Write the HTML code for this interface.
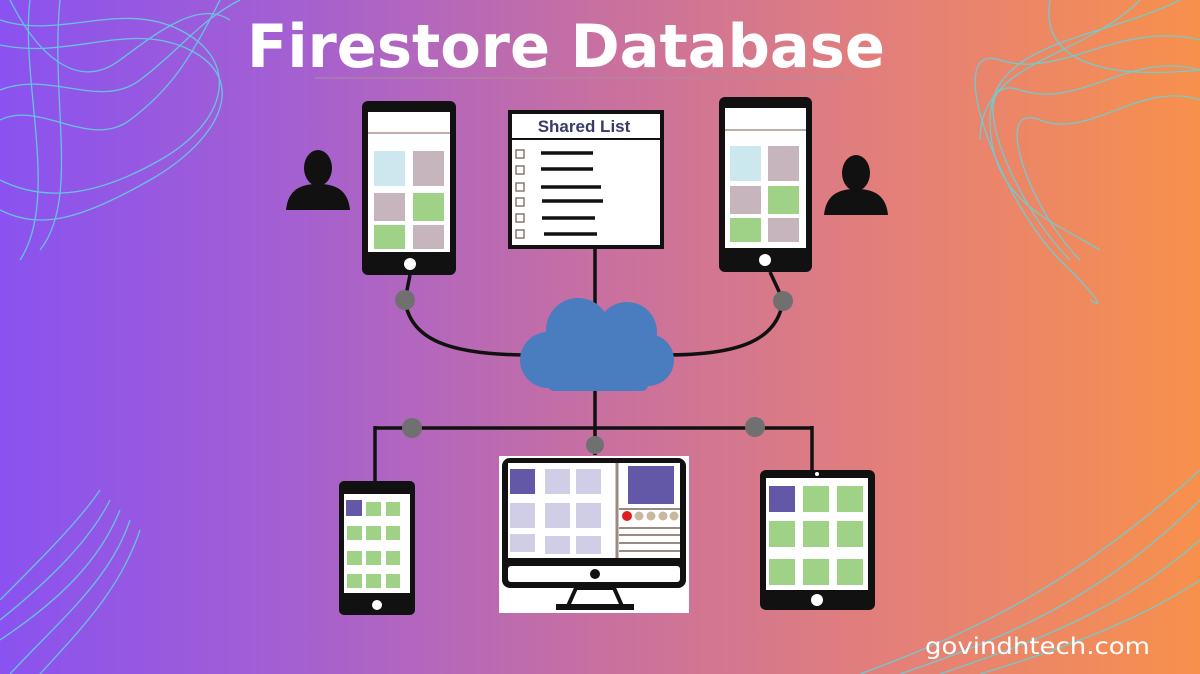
<!DOCTYPE html>
<html><head><style>
html,body{margin:0;padding:0;width:1200px;height:674px;overflow:hidden}
body{background:linear-gradient(90deg,#8a52f0 0%,#a560d0 25%,#c870a0 50%,#e48078 75%,#f8904c 100%);font-family:"Liberation Sans",sans-serif}
svg{position:absolute;left:0;top:0}
</style></head><body>
<svg width="1200" height="674" viewBox="0 0 1200 674">
<g fill="none" stroke="#5fd6e0" stroke-width="1.3" opacity="0.85">
<path d="M0 20 C60 40 120 0 180 30 S230 120 160 160 S40 200 0 180"/>
<path d="M0 45 C70 60 130 20 190 50 S220 140 150 180 S40 230 0 210"/>
<path d="M10 0 C40 60 80 90 120 60 S200 0 230 20"/>
<path d="M0 90 C50 70 100 110 140 80 S200 20 240 0"/>
<path d="M0 120 C40 100 90 150 130 120 S190 60 220 0"/>
<path d="M30 0 C20 80 60 200 20 260"/>
<path d="M60 0 C50 100 80 200 40 250"/>
<path d="M1200 40 C1120 20 1060 80 1000 60 S1000 200 1060 260 S1090 300 1090 300"/>
<path d="M1200 70 C1130 50 1080 110 1020 90 S1010 200 1070 260"/>
<path d="M1200 100 C1140 80 1090 140 1040 120 S1030 210 1080 260"/>
<path d="M1180 0 C1100 40 990 40 990 120 S1050 220 1100 250"/>
<path d="M1140 0 C1080 60 980 60 980 140"/>
<path d="M1050 0 C1040 60 1100 80 1200 70"/>
<path d="M0 600 C40 560 80 520 100 490"/>
<path d="M0 620 C50 580 90 540 110 500"/>
<path d="M0 640 C60 600 100 560 120 510"/>
<path d="M10 674 C60 620 110 580 130 520"/>
<path d="M40 674 C80 630 120 590 140 530"/>
<path d="M900 674 C1000 640 1100 600 1200 500"/>
<path d="M940 674 C1040 640 1120 610 1200 540"/>
<path d="M980 674 C1060 650 1140 620 1200 580"/>
<path d="M860 674 C980 630 1080 580 1200 470"/>
</g>
<text x="247" y="67" textLength="638" lengthAdjust="spacingAndGlyphs" fill="#fff" font-family="DejaVu Sans" font-weight="bold" font-size="60">Firestore Database</text>
<line x1="315" y1="78" x2="855" y2="78" stroke="#b08aa0" stroke-width="1"/>

<g stroke="#111" stroke-width="3.5" fill="none">
<path d="M410 275 L405 300 C410 340 450 355 530 355"/>
<path d="M770 272 L783 300 C778 340 740 355 665 355"/>
<line x1="595" y1="248" x2="595" y2="305"/>
<line x1="595" y1="385" x2="595" y2="455"/>
<line x1="375" y1="428" x2="812" y2="428"/>
<line x1="375" y1="426" x2="375" y2="483"/>
<line x1="812" y1="426" x2="812" y2="472"/>
</g>
<g fill="#707070">
<circle cx="405" cy="300" r="10"/><circle cx="783" cy="301" r="10"/>
<circle cx="412" cy="428" r="10"/><circle cx="755" cy="427" r="10"/>
<circle cx="595" cy="445" r="9"/>
</g>
<g fill="#4a7cc0">
<circle cx="578" cy="330" r="32"/><circle cx="627" cy="332" r="30"/>
<circle cx="548" cy="360" r="28"/><circle cx="648" cy="360" r="26"/>
<rect x="548" y="345" width="100" height="46" rx="6"/>
</g>
<g fill="#111">
<ellipse cx="318" cy="168" rx="14" ry="18"/>
<path d="M286 210 C288 190 300 184 318 184 C336 184 348 190 350 210 Z"/>
<ellipse cx="856" cy="173" rx="14" ry="18"/>
<path d="M824 215 C826 195 838 189 856 189 C874 189 886 195 888 215 Z"/>
</g>
<rect x="362" y="101" width="94" height="174" rx="6" fill="#111"/>
<rect x="368" y="112" width="82" height="140" fill="#fff"/>
<line x1="368" y1="133" x2="450" y2="133" stroke="#a8948a" stroke-width="1.5"/>
<rect x="374" y="151" width="31" height="35" fill="#cde7ee"/><rect x="413" y="151" width="31" height="35" fill="#c6b5bd"/>
<rect x="374" y="193" width="31" height="28" fill="#c6b5bd"/><rect x="413" y="193" width="31" height="28" fill="#9fd186"/>
<rect x="374" y="225" width="31" height="24" fill="#9fd186"/><rect x="413" y="225" width="31" height="24" fill="#c6b5bd"/>
<circle cx="410" cy="264" r="6" fill="#fff"/>
<rect x="719" y="97" width="93" height="175" rx="6" fill="#111"/>
<rect x="725" y="108" width="81" height="140" fill="#fff"/>
<line x1="725" y1="130" x2="806" y2="130" stroke="#a8948a" stroke-width="1.5"/>
<rect x="730" y="146" width="31" height="35" fill="#cde7ee"/><rect x="768" y="146" width="31" height="35" fill="#c6b5bd"/>
<rect x="730" y="186" width="31" height="28" fill="#c6b5bd"/><rect x="768" y="186" width="31" height="28" fill="#9fd186"/>
<rect x="730" y="218" width="31" height="24" fill="#9fd186"/><rect x="768" y="218" width="31" height="24" fill="#c6b5bd"/>
<circle cx="765" cy="260" r="6" fill="#fff"/>
<rect x="510" y="112" width="152" height="135" fill="#fff" stroke="#111" stroke-width="4"/>
<line x1="510" y1="139" x2="662" y2="139" stroke="#111" stroke-width="2"/>
<text x="584" y="132" text-anchor="middle" fill="#3a3a6a" font-weight="bold" font-size="17">Shared List</text>
<g fill="none" stroke="#8a7a70" stroke-width="1.5">
<rect x="516" y="150" width="8" height="8"/><rect x="516" y="166" width="8" height="8"/><rect x="516" y="183" width="8" height="8"/>
<rect x="516" y="198" width="8" height="8"/><rect x="516" y="214" width="8" height="8"/><rect x="516" y="230" width="8" height="8"/>
</g>
<g stroke="#111" stroke-width="3.5">
<line x1="541" y1="153" x2="593" y2="153"/><line x1="541" y1="169" x2="593" y2="169"/><line x1="541" y1="187" x2="601" y2="187"/>
<line x1="542" y1="201" x2="603" y2="201"/><line x1="542" y1="218" x2="595" y2="218"/><line x1="544" y1="234" x2="597" y2="234"/>
</g>
<rect x="339" y="481" width="76" height="134" rx="5" fill="#111"/>
<rect x="344" y="494" width="66" height="99" fill="#fff"/>
<rect x="346" y="500" width="16" height="16" fill="#6358a8"/>
<g fill="#9fd186">
<rect x="366" y="502" width="15" height="14"/><rect x="386" y="502" width="14" height="14"/>
<rect x="347" y="526" width="15" height="14"/><rect x="366" y="526" width="15" height="14"/><rect x="386" y="526" width="14" height="14"/>
<rect x="347" y="551" width="15" height="14"/><rect x="366" y="551" width="15" height="14"/><rect x="386" y="551" width="14" height="14"/>
<rect x="347" y="574" width="15" height="14"/><rect x="366" y="574" width="15" height="14"/><rect x="386" y="574" width="14" height="14"/>
</g>
<circle cx="377" cy="605" r="5" fill="#fff"/>
<rect x="499" y="456" width="190" height="157" fill="#fff"/>
<rect x="502" y="458" width="184" height="130" rx="8" fill="#111"/>
<rect x="508" y="463" width="172" height="95" fill="#fff"/>
<rect x="508" y="566" width="172" height="16" rx="3" fill="#fff"/>
<circle cx="595" cy="574" r="5" fill="#111"/>
<path d="M576 588 L568 606 L622 606 L614 588 Z" fill="none" stroke="#111" stroke-width="4"/>
<rect x="556" y="604" width="78" height="6" fill="#111"/>
<line x1="617" y1="463" x2="617" y2="558" stroke="#9a8a80" stroke-width="3"/>
<rect x="510" y="469" width="25" height="25" fill="#6358a8"/>
<g fill="#d0cee6">
<rect x="545" y="469" width="25" height="25"/><rect x="576" y="469" width="25" height="25"/>
<rect x="510" y="503" width="25" height="25"/><rect x="545" y="503" width="25" height="25"/><rect x="576" y="503" width="25" height="25"/>
<rect x="510" y="534" width="25" height="18"/><rect x="545" y="536" width="25" height="18"/><rect x="576" y="536" width="25" height="18"/>
</g>
<rect x="628" y="466" width="46" height="38" fill="#6358a8"/>
<circle cx="627" cy="516" r="5" fill="#e02020"/>
<g fill="#c8b8a0"><circle cx="639" cy="516" r="4.5"/><circle cx="651" cy="516" r="4.5"/><circle cx="663" cy="516" r="4.5"/><circle cx="674" cy="516" r="4.5"/></g>
<g stroke="#9a8a80" stroke-width="2"><line x1="619" y1="509" x2="680" y2="509"/><line x1="619" y1="528" x2="680" y2="528"/><line x1="619" y1="535" x2="680" y2="535"/><line x1="619" y1="543" x2="680" y2="543"/><line x1="619" y1="551" x2="680" y2="551"/></g>
<rect x="760" y="470" width="115" height="140" rx="6" fill="#111"/>
<rect x="766" y="478" width="102" height="112" fill="#fff"/>
<circle cx="817" cy="474" r="2" fill="#fff"/>
<circle cx="817" cy="600" r="6" fill="#fff"/>
<rect x="769" y="486" width="26" height="26" fill="#6358a8"/>
<g fill="#9fd186">
<rect x="803" y="486" width="26" height="26"/><rect x="837" y="486" width="26" height="26"/>
<rect x="769" y="521" width="26" height="26"/><rect x="803" y="521" width="26" height="26"/><rect x="837" y="521" width="26" height="26"/>
<rect x="769" y="559" width="26" height="26"/><rect x="803" y="559" width="26" height="26"/><rect x="837" y="559" width="26" height="26"/>
</g>
<text x="925" y="654" textLength="225" lengthAdjust="spacingAndGlyphs" fill="#fff" font-family="DejaVu Sans" font-size="23">govindhtech.com</text>
</svg>
</body></html>
